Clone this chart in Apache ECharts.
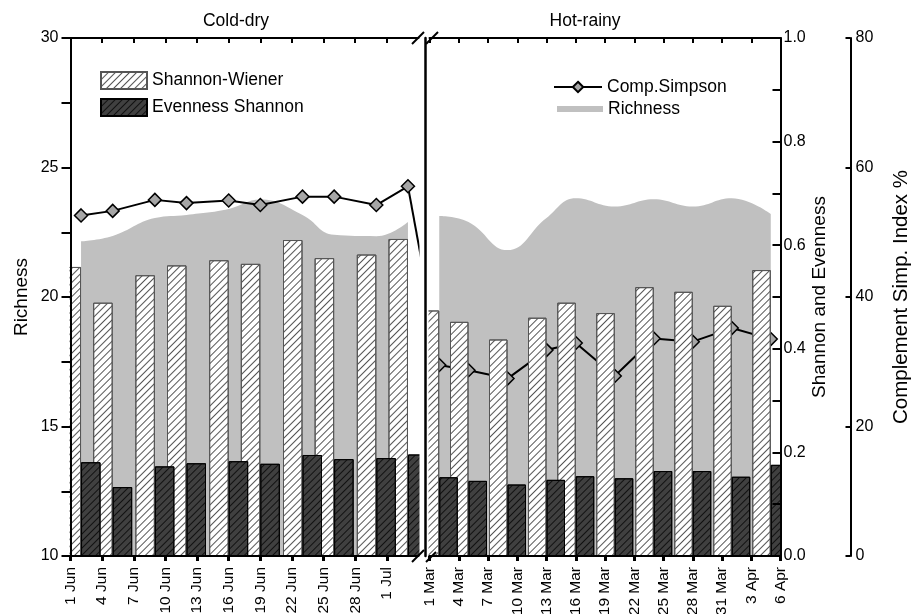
<!DOCTYPE html>
<html><head><meta charset="utf-8">
<script src="https://cdn.jsdelivr.net/npm/echarts@6/dist/echarts.min.js"></script>
<style>html,body{margin:0;padding:0;background:#fff}#c{width:914px;height:614px}</style>
</head><body><div id="c"></div>
<script>
const FONT = 'Liberation Sans, Arial, Helvetica, sans-serif';

// tick labels shown on the two x axes
const tickLabelsLeft = ['1 Jun','4 Jun','7 Jun','10 Jun','13 Jun','16 Jun','19 Jun','22 Jun','25 Jun','28 Jun','1 Jul'];
const tickLabelsRight = ['1 Mar','4 Mar','7 Mar','10 Mar','13 Mar','16 Mar','19 Mar','22 Mar','25 Mar','28 Mar','31 Mar','3 Apr','6 Apr'];

// sampling dates
const datesLeft = ['2 Jun','5 Jun','9 Jun','12 Jun','16 Jun','19 Jun','23 Jun','26 Jun','30 Jun','3 Jul'];
const datesRight = ['2 Mar','5 Mar','9 Mar','13 Mar','16 Mar','20 Mar','24 Mar','28 Mar','1 Apr','5 Apr'];

// Cold-dry values
const shannonLeft  = [0.558,0.489,0.542,0.561,0.571,0.564,0.610,0.575,0.582,0.612];
const evennessLeft = [0.181,0.133,0.173,0.179,0.183,0.178,0.195,0.187,0.189,0.196];
const simpsonLeft  = [52.6,53.3,55.0,54.5,54.9,54.2,55.5,55.5,54.2,57.1];
const richnessLeft = [22.15,22.36,23.05,23.17,23.40,23.76,23.17,22.40,22.35,22.9];

// Hot-rainy values
const shannonRight  = [0.474,0.452,0.418,0.460,0.489,0.469,0.519,0.510,0.483,0.552];
const evennessRight = [0.152,0.145,0.138,0.147,0.154,0.150,0.164,0.164,0.153,0.176];
const simpsonRight  = [29.5,28.7,27.4,31.8,32.9,27.8,33.6,33.1,35.2,33.5];
const richnessRight = [23.13,22.9,21.81,23.05,23.81,23.49,23.77,23.49,23.81,23.2];

// where (in Cold-dry day units, 0 = 1 Jun) the Comp.Simpson line meets the first Hot-rainy sample across the break
const connectorAt = 35.1;

function days(month, from, to){ const a=[]; for(let d=from; d<=to; d++) a.push(d+' '+month); return a; }
const catsLeft = days('Jun',1,30).concat(days('Jul',1,4));
const catsRight = days('Mar',1,31).concat(days('Apr',1,6));
function spread(cats, dates, vals){ return cats.map(c => { const i = dates.indexOf(c); return i < 0 ? '-' : vals[i]; }); }

function xAx(grid, cats, ticks, pos){
  const show = (i, v) => ticks.indexOf(v) >= 0;
  const top = pos === 'top';
  return {
    type:'category', gridIndex:grid, data:cats, boundaryGap:false, position:pos, z:10,
    axisLine:{show:true, onZero:false, lineStyle:{color:'#000', width:2}},
    axisTick:{show:true, interval:show, inside:top, length:5, lineStyle:{color:'#000', width:top?2:3}},
    axisLabel:{show:!top, interval:show, rotate:90, margin:11, fontSize:15.5, color:'#000', fontFamily:FONT},
    splitLine:{show:false}
  };
}
const hiddenY = (grid, min, max) => ({type:'value', gridIndex:grid, min:min, max:max, show:false});
const txt = (s) => ({fontSize:s, color:'#000', fontFamily:FONT});

const whiteDecal = {symbol:'rect', symbolSize:1, dashArrayX:[1,0], dashArrayY:[1,4], rotation:-Math.PI/4, color:'#555'};
const darkDecal = {symbol:'rect', symbolSize:1, dashArrayX:[1,0], dashArrayY:[1,4], rotation:-Math.PI/4, color:'#111'};

function panelSeries(xi, yR, yS, yE, cats, dates, sh, ev, si, ri, bw){
  return [
    {name:'Richness', type:'line', xAxisIndex:xi, yAxisIndex:yR, data:spread(cats,dates,ri), connectNulls:true,
     smooth:0.45, showSymbol:false, symbol:'none', lineStyle:{width:0, color:'#c0c0c0'}, itemStyle:{color:'#c0c0c0'},
     areaStyle:{color:'#c0c0c0', opacity:1}, z:1, silent:true},
    {name:'Comp.Simpson', type:'line', xAxisIndex:xi, yAxisIndex:yS, data:spread(cats,dates,si), connectNulls:true,
     symbol:'diamond', symbolSize:13, showSymbol:true, showAllSymbol:true, lineStyle:{color:'#000', width:2},
     itemStyle:{color:'#a6a6a6', borderColor:'#000', borderWidth:1.5}, z:2, silent:true},
    {name:'Shannon-Wiener', type:'bar', xAxisIndex:xi, yAxisIndex:yE, data:spread(cats,dates,sh), barWidth:bw, barGap:'0%',
     itemStyle:{color:'#fff', borderColor:'#555', borderWidth:1, decal:whiteDecal}, z:3, silent:true},
    {name:'Evenness Shannon', type:'bar', xAxisIndex:xi, yAxisIndex:yE, data:spread(cats,dates,ev), barWidth:bw, barGap:'0%',
     itemStyle:{color:'#404040', borderColor:'#000', borderWidth:1, decal:darkDecal}, z:4, silent:true}
  ];
}

const chart = echarts.init(document.getElementById('c'), null, {renderer:'canvas'});
const slash = (x1,y1,x2,y2) => ({type:'line', z:100, shape:{x1,y1,x2,y2}, style:{stroke:'#000', lineWidth:2}});
const mask = (x,y,w,h) => ({type:'rect', z:6, silent:true, shape:{x,y,width:w,height:h}, style:{fill:'#fff'}});
const lastLeft = catsLeft.indexOf(datesLeft[datesLeft.length-1]);

chart.setOption({
  animation:false,
  backgroundColor:'#fff',
  grid:[
    {left:70.5, top:38, width:348, height:518, containLabel:false, outerBoundsMode:'none'},
    {left:429.5, top:38, width:351, height:518, containLabel:false, outerBoundsMode:'none'}
  ],
  xAxis:[
    xAx(0, catsLeft, tickLabelsLeft, 'bottom'),
    xAx(0, catsLeft, tickLabelsLeft, 'top'),
    xAx(1, catsRight, tickLabelsRight, 'bottom'),
    xAx(1, catsRight, tickLabelsRight, 'top'),
    {type:'value', gridIndex:0, min:0, max:catsLeft.length-1, show:false}
  ],
  yAxis:[
    {type:'value', gridIndex:0, position:'left', min:10, max:30, interval:2.5, z:10,
     name:'Richness', nameLocation:'middle', nameRotate:90, nameGap:39, nameTextStyle:txt(19),
     axisLine:{show:true, lineStyle:{color:'#000', width:2}},
     axisTick:{show:true, length:9, lineStyle:{color:'#000', width:2}},
     axisLabel:Object.assign(txt(16), {margin:12, formatter: v => v % 5 === 0 ? String(v) : ''}),
     splitLine:{show:false}},
    hiddenY(0, 0, 1),
    hiddenY(0, 0, 80),
    {type:'value', gridIndex:1, position:'left', offset:4.5, min:10, max:30, z:10,
     axisLine:{show:true, lineStyle:{color:'#000', width:2.5}}, axisTick:{show:false}, axisLabel:{show:false}, splitLine:{show:false}},
    {type:'value', gridIndex:1, position:'right', min:0, max:1, interval:0.1, z:10,
     name:'Shannon and Evenness', nameLocation:'middle', nameRotate:90, nameGap:30, nameTextStyle:txt(19),
     axisLine:{show:true, lineStyle:{color:'#000', width:2}},
     axisTick:{show:true, inside:true, length:8, lineStyle:{color:'#000', width:2}},
     axisLabel:Object.assign(txt(16), {margin:3, formatter: v => { const k = Math.round(v*10); return k % 2 === 0 ? (k/10).toFixed(1) : ''; }}),
     splitLine:{show:false}},
    {type:'value', gridIndex:1, position:'right', offset:70, min:0, max:80, interval:20, z:10,
     name:'Complement Simp. Index %', nameLocation:'middle', nameRotate:90, nameGap:40, nameTextStyle:txt(20.5),
     axisLine:{show:true, lineStyle:{color:'#000', width:2}},
     axisTick:{show:true, inside:true, length:5, lineStyle:{color:'#000', width:2}},
     axisLabel:Object.assign(txt(16), {margin:5}),
     splitLine:{show:false}}
  ],
  legend:[
    {left:100, top:71, orient:'vertical', padding:0, itemWidth:46, itemHeight:17, itemGap:8, selectedMode:false,
     textStyle:txt(17.5), data:[{name:'Shannon-Wiener', icon:'rect'},{name:'Evenness Shannon', icon:'rect'}]},
    {left:553, top:78, padding:0, itemWidth:48, itemHeight:13, selectedMode:false, textStyle:txt(17.5), data:['Comp.Simpson']},
    {left:557, top:100, padding:0, itemWidth:46, itemHeight:6, selectedMode:false, textStyle:txt(17.5), data:[{name:'Richness', icon:'rect'}]}
  ],
  graphic:[
    mask(48, 36, 21.5, 522), mask(419.5, 36, 9, 522), mask(781.5, 36, 14, 522),
    {type:'text', x:236, y:21, z:100, style:{text:'Cold-dry', align:'center', verticalAlign:'middle', font:'17.5px ' + FONT, fill:'#000'}},
    {type:'text', x:585, y:21, z:100, style:{text:'Hot-rainy', align:'center', verticalAlign:'middle', font:'17.5px ' + FONT, fill:'#000'}},
    slash(412,44,424,32), slash(426,44,438,32),
    slash(412,562,424,550), slash(426,562,436,552)
  ],
  series: panelSeries(0, 0, 2, 1, catsLeft, datesLeft, shannonLeft, evennessLeft, simpsonLeft, richnessLeft, 19.5)
    .concat(panelSeries(2, 3, 5, 4, catsRight, datesRight, shannonRight, evennessRight, simpsonRight, richnessRight, 18.5))
    .concat([{type:'line', xAxisIndex:4, yAxisIndex:2, symbol:'none', silent:true, z:2, lineStyle:{color:'#000', width:2},
              data:[[lastLeft, simpsonLeft[simpsonLeft.length-1]], [connectorAt, simpsonRight[0]]]}])
});
</script></body></html>
